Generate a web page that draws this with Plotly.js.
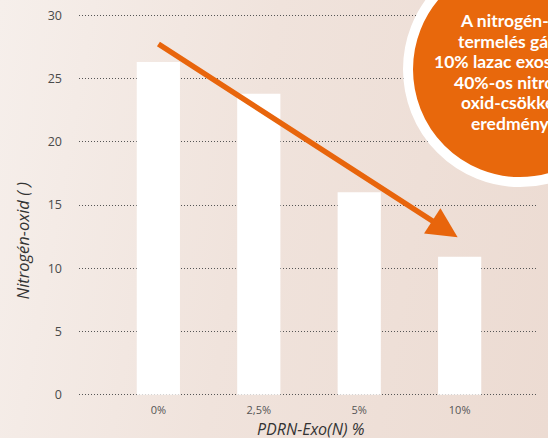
<!DOCTYPE html>
<html>
<head>
<meta charset="utf-8">
<script src="https://cdn.plot.ly/plotly-3.0.1.min.js"></script>
<style>
html,body{margin:0;padding:0;width:548px;height:438px;overflow:hidden;
background:linear-gradient(100deg,#f6efeb 0%,#f0e3dc 45%,#ecdbd2 100%);}
#chart{width:548px;height:438px;}
</style>
</head>
<body>
<div id="chart"></div>
<script>
const categories = ['0%', '2,5%', '5%', '10%'];
const noValues = [26.3, 23.8, 16.0, 10.9];
const yTicks = [0, 5, 10, 15, 20, 25, 30];
const yTitle = 'Nitrogén-oxid ( )';
const xTitle = 'PDRN-Exo(N) %';
const calloutLines = ['A nitrogén-oxid', 'termelés gátlása', '10% lazac exoszómával', '40%-os nitrogén-', 'oxid-csökkentés', 'eredménye'];

const trace = {
  type: 'bar',
  x: categories.map((c, i) => i),
  y: noValues,
  width: 0.43,
  marker: {color: '#ffffff', line: {width: 0}},
  hoverinfo: 'skip'
};

// plot area in pixels: x 79..538, y(0)=394.5, y(30)=15
const PX = {l: 79, r: 538, top: 15, bottom: 394.5};
const pw = PX.r - PX.l, ph = PX.bottom - PX.top;
const px2x = x => (x - PX.l) / pw;
const px2y = y => (PX.bottom - y) / ph;
const pad = 0.1 * ph / 30;

const calloutStarts = [459, 457, 433, 453, 460, 470];
const calloutY = [21, 42, 62, 83, 103, 124];

const annotations = [
  {xref: 'x', yref: 'y', x: 2.98, y: 12.45, axref: 'x', ayref: 'y', ax: -0.014, ay: 27.8,
   text: '', showarrow: true, arrowhead: 2, arrowsize: 1.1, arrowwidth: 5.5,
   arrowcolor: '#e8650c', standoff: 0, startstandoff: 0},
  {xref: 'paper', yref: 'paper', x: px2x(22), y: px2y(240),
   xanchor: 'center', yanchor: 'middle', textangle: -90, showarrow: false,
   text: '<i>' + yTitle + '</i>', font: {family: 'Open Sans, sans-serif', size: 16.5, color: '#333'}},
  {xref: 'paper', yref: 'paper', x: px2x(310), y: px2y(427),
   xanchor: 'center', yanchor: 'middle', showarrow: false,
   text: '<i>' + xTitle + '</i>', font: {family: 'Open Sans, sans-serif', size: 16, color: '#333'}}
];
calloutLines.forEach((t, i) => {
  annotations.push({xref: 'paper', yref: 'paper', x: px2x(calloutStarts[i]), y: px2y(calloutY[i]),
    xanchor: 'left', yanchor: 'middle', showarrow: false, align: 'left', borderpad: 0,
    text: '<b>' + t + '</b>', font: {family: 'Lato, sans-serif', size: 17.5, color: '#ffffff'}});
});

const layout = {
  width: 548, height: 438,
  margin: {l: PX.l, r: 548 - PX.r, t: PX.top - pad, b: 438 - PX.bottom - pad},
  paper_bgcolor: 'rgba(0,0,0,0)',
  plot_bgcolor: 'rgba(0,0,0,0)',
  showlegend: false,
  font: {family: 'Open Sans, sans-serif', color: '#444'},
  xaxis: {
    range: [-0.79, 3.78],
    tickvals: categories.map((c, i) => i),
    ticktext: categories,
    showgrid: false, zeroline: false, showline: false,
    ticks: '', ticklabelstandoff: 6,
    tickfont: {size: 11, color: '#555', family: 'Open Sans, sans-serif'}
  },
  yaxis: {
    range: [-0.1, 30.1],
    tickvals: yTicks,
    showgrid: true, gridcolor: '#555', griddash: '1px,2px', gridwidth: 1,
    zeroline: false, showline: false,
    ticks: '', ticklabelstandoff: 16,
    tickfont: {size: 12.5, color: '#4a4a4a', family: 'Open Sans, sans-serif'}
  },
  shapes: [
    {type: 'circle', xref: 'paper', yref: 'paper',
     x0: px2x(408), x1: px2x(632), y0: px2y(182), y1: px2y(-42),
     fillcolor: '#e8680c', line: {color: '#ffffff', width: 10}, layer: 'above'}
  ],
  annotations: annotations
};

Plotly.newPlot('chart', [trace], layout, {staticPlot: true, displayModeBar: false});
</script>
</body>
</html>
